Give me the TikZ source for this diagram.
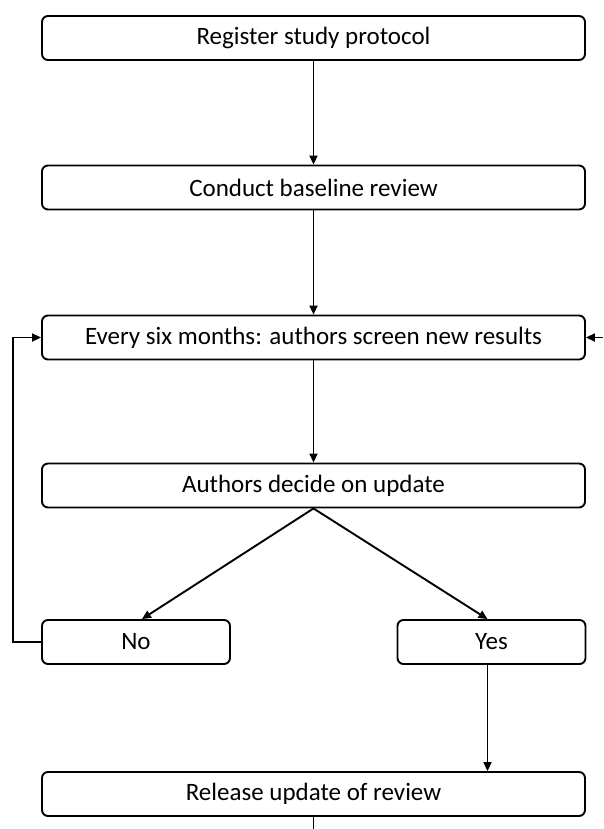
\documentclass[tikz,border=0pt]{standalone}
\usepackage{fontspec}
\setmainfont{Carlito}
\usetikzlibrary{arrows.meta}
\begin{document}
\begin{tikzpicture}[x=1pt,y=-1pt,
  box/.style={draw, line width=1.9pt, rounded corners=6pt, inner sep=0pt, font=\fontsize{25}{28}\selectfont},
  wide/.style={box, minimum width=543pt, minimum height=44pt},
  small/.style={box, minimum width=188pt, minimum height=44pt},
  conn/.style={line width=1.9pt, -{Triangle[length=9pt,width=8pt]}},
  plain/.style={line width=1.9pt}]
\useasboundingbox (0,0) rectangle (603,829);
\node[wide] (reg) at (313.5,38) {Register study protocol};
\node[wide] (base) at (313.5,187.5) {Conduct baseline review};
\node[wide] (every) at (313.5,337.5) {Every six months: authors screen new results};
\node[wide] (decide) at (313.5,485.5) {Authors decide on update};
\node[small] (no) at (136,642) {No};
\node[small] (yes) at (491.5,642) {Yes};
\node[wide] (rel) at (313.5,794) {Release update of review};
\coordinate (rin) at (603,337.5);
\coordinate (bout) at (313.5,829);
\coordinate (lx) at (13,0);
\draw[conn] (reg.south) -- (base.north);
\draw[conn] (base.south) -- (every.north);
\draw[conn] (every.south) -- (decide.north);
\draw[conn] (decide.south) -- ([xshift=6pt]no.north);
\draw[conn] (decide.south) -- ([xshift=-4pt]yes.north);
\draw[conn] ([xshift=-4pt]yes.south) -- ([xshift=-4pt]rel.north -| yes.south);
\draw[conn] (no.west) -- (lx |- no.west) -- (lx |- every.west) -- (every.west);
\draw[conn] (rin) -- (every.east);
\draw[plain] (rel.south) -- (bout);
\end{tikzpicture}
\end{document}
